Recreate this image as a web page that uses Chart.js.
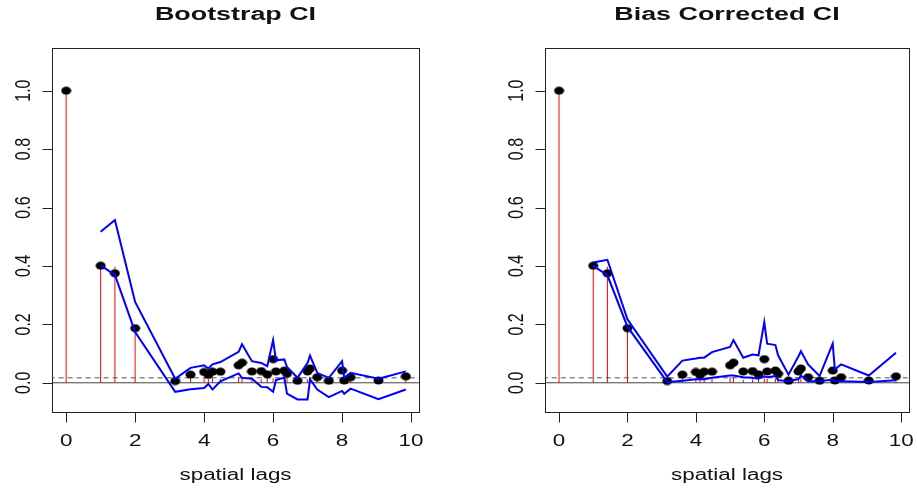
<!DOCTYPE html>
<html>
    <head>
        <title>Correlogram CI</title>
        <script src="https://cdn.jsdelivr.net/npm/chart.js@4/dist/chart.umd.min.js"></script>
        <style>
            body { margin: 0; background: #fff; }
            canvas { position: absolute; top: 0; }
        </style>
    </head>
    <body>
        <canvas id="boot" width="458" height="493" style="left:0"></canvas>
        <canvas id="bc" width="459" height="493" style="left:458px"></canvas>

        <script>
            // distance classes (grid distances) and correlogram values
            const lags = [
                0, 1, 1.414, 2, 3.162, 3.606, 4, 4.123, 4.243, 4.472, 5, 5.099,
                5.385, 5.657, 5.831, 6, 6.083, 6.325, 6.403, 6.708, 7, 7.071,
                7.28, 7.616, 8, 8.062, 8.246, 9.055, 9.849,
            ]
            // observed correlation (red spikes)
            const rhoObs = [
                1.0, 0.4, 0.397, 0.187, 0.008, 0.015, 0.015, 0.013, 0.015,
                0.013, 0.02, 0.02, 0.01, 0.012, 0.015, 0.015, 0.013, 0.015,
                0.018, 0.008, 0.012, 0.018, 0.008, 0.006, 0.01, 0.008, 0.012,
                0.006, 0.01,
            ]
            // bootstrap mean (black dots)
            const rhoMean = [
                1.0, 0.401, 0.375, 0.187, 0.006, 0.028, 0.037, 0.027, 0.038,
                0.038, 0.06, 0.069, 0.039, 0.04, 0.029, 0.081, 0.039, 0.042,
                0.031, 0.007, 0.039, 0.049, 0.019, 0.007, 0.042, 0.008, 0.019,
                0.008, 0.022,
            ]
            // confidence bounds, from lag 1 on
            const bootUpper = [
                0.517, 0.557, 0.277, 0.014, 0.051, 0.06, 0.049, 0.063, 0.071,
                0.106, 0.132, 0.074, 0.068, 0.057, 0.146, 0.077, 0.08, 0.054,
                0.017, 0.068, 0.093, 0.034, 0.017, 0.074, 0.017, 0.034, 0.014,
                0.039,
            ]
            const bootLower = [
                0.402, 0.369, 0.174, -0.031, -0.022, -0.018, -0.004, -0.023,
                0.005, 0.032, 0.017, 0.014, -0.014, -0.015, -0.031, 0.009,
                0.018, -0.037, -0.057, -0.057, 0.012, -0.023, -0.049, -0.028,
                -0.038, -0.02, -0.056, -0.023,
            ]
            const bcUpper = [
                0.412, 0.421, 0.217, 0.021, 0.076, 0.083, 0.086, 0.086, 0.105,
                0.123, 0.146, 0.086, 0.097, 0.094, 0.208, 0.134, 0.129, 0.094,
                0.028, 0.091, 0.108, 0.063, 0.023, 0.134, 0.046, 0.063, 0.025,
                0.103,
            ]
            const bcLower = [
                0.4, 0.368, 0.192, 0.002, 0.007, 0.012, 0.012, 0.012, 0.017,
                0.025, 0.025, 0.019, 0.017, 0.014, 0.022, 0.019, 0.023, 0.009,
                0.005, 0.013, 0.024, 0.005, 0.005, 0.011, 0.005, 0.005, 0.003,
                0.009,
            ]
            const refLevel = 0.017

            const xTicks = [0, 2, 4, 6, 8, 10]
            const yTicks = [0, 0.2, 0.4, 0.6, 0.8, 1.0]
            const yTickLabels = ['0.0', '0.2', '0.4', '0.6', '0.8', '1.0']
            const xLabel = 'spatial lags'

            const FONT = '"Liberation Sans", Arial, sans-serif'
            const STRETCH = 1.4 // the device was wider than tall

            function drawText(ctx, str, x, y, font, rotated) {
                ctx.save()
                ctx.translate(x, y)
                if (rotated) {
                    ctx.rotate(-Math.PI / 2)
                    ctx.scale(1, STRETCH)
                } else {
                    ctx.scale(STRETCH, 1)
                }
                ctx.font = font
                ctx.textAlign = 'center'
                ctx.textBaseline = 'alphabetic'
                ctx.fillStyle = '#111'
                ctx.fillText(str, 0, 0)
                ctx.restore()
            }

            // slightly flattened dot, like pch 19 on a stretched device
            function dot() {
                const c = document.createElement('canvas')
                c.width = 11
                c.height = 9
                const g = c.getContext('2d')
                g.fillStyle = '#000'
                g.beginPath()
                g.ellipse(5.5, 4.5, 5, 4, 0, 0, 2 * Math.PI)
                g.fill()
                return c
            }

            function frame(title) {
                return {
                    id: 'frame',
                    afterDraw(chart) {
                        const { ctx, chartArea: a } = chart
                        const { x, y } = chart.scales
                        const l = Math.round(a.left) + 0.5
                        const t = Math.round(a.top) + 0.5
                        const b = Math.round(a.bottom) + 0.5
                        const r = Math.round(a.right) + 0.5
                        ctx.save()
                        ctx.strokeStyle = '#222'
                        ctx.lineWidth = 1
                        ctx.strokeRect(l, t, r - l, b - t)
                        ctx.beginPath()
                        xTicks.forEach(v => {
                            const px = Math.round(x.getPixelForValue(v)) + 0.5
                            ctx.moveTo(px, b)
                            ctx.lineTo(px, b + 10)
                        })
                        yTicks.forEach(v => {
                            const py = Math.round(y.getPixelForValue(v)) + 0.5
                            ctx.moveTo(l, py)
                            ctx.lineTo(l - 10, py)
                        })
                        ctx.stroke()
                        ctx.restore()

                        const f = '16px ' + FONT
                        xTicks.forEach(v =>
                            drawText(ctx, String(v), x.getPixelForValue(v), b + 33, f)
                        )
                        yTicks.forEach((v, i) =>
                            drawText(ctx, yTickLabels[i], l - 23, y.getPixelForValue(v), f, true)
                        )
                        const mid = (a.left + a.right) / 2
                        drawText(ctx, xLabel, mid, 480, f)
                        drawText(ctx, title, mid, 20, 'bold 19.2px ' + FONT)
                    },
                }
            }

            function hline(v, dash, color) {
                return {
                    data: [{ x: -1, y: v }, { x: 11, y: v }],
                    borderColor: color,
                    borderWidth: 1,
                    borderDash: dash,
                    pointRadius: 0,
                    order: 4,
                }
            }

            function panel(id, title, upper, lower, pad) {
                const stems = []
                lags.forEach((x, i) => {
                    stems.push({ x, y: 0 }, { x, y: rhoObs[i] }, { x, y: null })
                })
                const ci = arr => lags.slice(1).map((x, i) => ({ x, y: arr[i] }))
                const blue = arr => ({
                    data: ci(arr),
                    borderColor: '#0000ff',
                    borderWidth: 2,
                    pointRadius: 0,
                    order: 1,
                })

                return new Chart(document.getElementById(id), {
                    type: 'line',
                    data: {
                        datasets: [
                            {
                                data: stems,
                                borderColor: '#ff0000',
                                borderWidth: 1,
                                pointRadius: 0,
                                spanGaps: false,
                                order: 5,
                            },
                            hline(0, [], '#444'),
                            hline(refLevel, [5, 4], '#555'),
                            {
                                data: lags.map((x, i) => ({ x, y: rhoMean[i] })),
                                showLine: false,
                                pointStyle: dot(),
                                pointRadius: 5,
                                pointBorderWidth: 0,
                                order: 2,
                            },
                            blue(upper),
                            blue(lower),
                        ],
                    },
                    options: {
                        responsive: false,
                        animation: false,
                        devicePixelRatio: 1,
                        layout: { padding: pad },
                        scales: {
                            x: { type: 'linear', min: -0.41, max: 10.23, display: false },
                            y: { type: 'linear', min: -0.1, max: 1.146, display: false },
                        },
                        plugins: {
                            legend: { display: false },
                            tooltip: { enabled: false },
                        },
                    },
                    plugins: [frame(title)],
                })
            }

            panel('boot', 'Bootstrap CI', bootUpper, bootLower, {
                left: 52, top: 48, right: 39, bottom: 81,
            })
            panel('bc', 'Bias Corrected CI', bcUpper, bcLower, {
                left: 87, top: 48, right: 8, bottom: 81,
            })
        </script>
    </body>
</html>
